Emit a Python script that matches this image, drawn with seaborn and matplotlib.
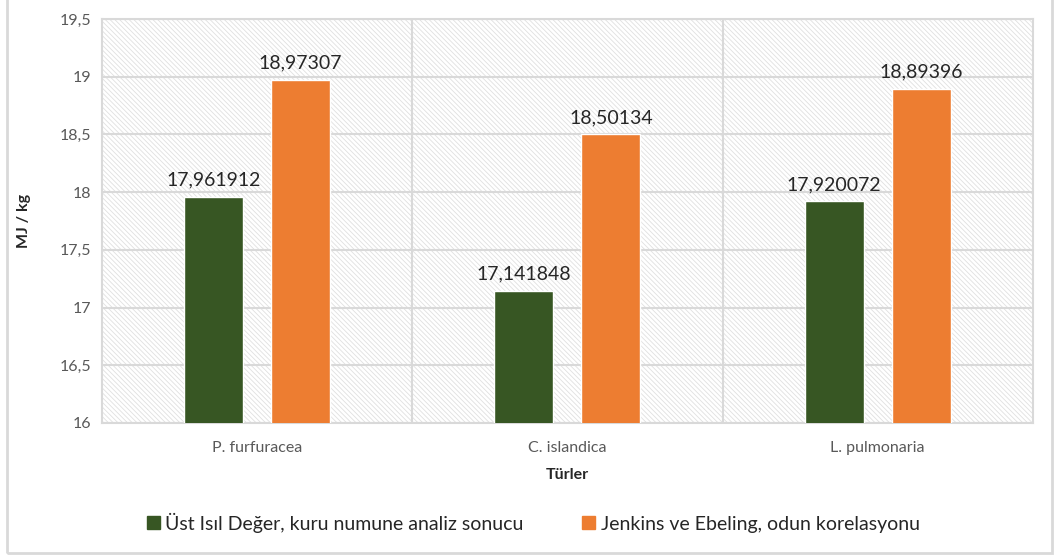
import matplotlib
matplotlib.use("Agg")
import matplotlib.pyplot as plt
from matplotlib.patches import Rectangle
from matplotlib.ticker import FuncFormatter, MultipleLocator
import pandas as pd
import seaborn as sns

# veriler
turler = ["P. furfuracea", "C. islandica", "L. pulmonaria"]
seriler = ["Üst Isıl Değer, kuru numune analiz sonucu", "Jenkins ve Ebeling, odun korelasyonu"]
ust_isil = [17.961912, 17.141848, 17.920072]
jenkins = [18.97307, 18.50134, 18.89396]
etiket_ust = ["17,961912", "17,141848", "17,920072"]
etiket_jenkins = ["18,97307", "18,50134", "18,89396"]

df = pd.DataFrame({
    "tur": turler * 2,
    "seri": [seriler[0]] * 3 + [seriler[1]] * 3,
    "deger": ust_isil + jenkins,
})

sns.set_theme(style="white")
plt.rcParams["font.family"] = ["Lato", "DejaVu Sans"]
plt.rcParams["hatch.color"] = "#e0e0e0"
plt.rcParams["hatch.linewidth"] = 0.6

renkler = ["#375623", "#ED7D31"]
gri = "#d9d9d9"

fig = plt.figure(figsize=(10.56, 5.59), dpi=100)
ax = fig.add_axes([0.0966, 0.2433, 0.8814, 0.7227])

# taralı arka plan
ax.add_patch(Rectangle((0, 0), 1, 1, transform=ax.transAxes, facecolor="white",
                       edgecolor="#e0e0e0", hatch="\\\\\\\\\\\\\\", linewidth=0, zorder=0))

sns.barplot(data=df, x="tur", y="deger", hue="seri", palette=renkler, saturation=1,
            width=0.56, gap=0.32, ax=ax, legend=False, zorder=3)

ax.set_ylim(16, 19.5)
ax.set_xlim(-0.5, 2.5)
ax.yaxis.set_major_locator(MultipleLocator(0.5))
ax.yaxis.set_major_formatter(FuncFormatter(lambda v, p: f"{v:g}".replace(".", ",")))
ax.grid(axis="y", color=gri, linewidth=1.5, zorder=1)
ax.set_axisbelow(True)
for xv in [0.5, 1.5]:
    ax.axvline(xv, color=gri, linewidth=1.5, zorder=1)
for s in ax.spines.values():
    s.set_color(gri)
    s.set_linewidth(1.5)

ax.tick_params(axis="both", length=0, labelsize=11.5, labelcolor="#595959", pad=8)
ax.tick_params(axis="x", pad=13)
ax.set_xlabel("Türler", fontsize=11.5, fontweight="bold", color="#262626", labelpad=9)
ax.set_ylabel("MJ / kg", fontsize=11.5, fontweight="bold", color="#262626", labelpad=20)

ax.bar_label(ax.containers[0], labels=etiket_ust, padding=6, fontsize=14, color="#262626")
ax.bar_label(ax.containers[1], labels=etiket_jenkins, padding=6, fontsize=14, color="#262626")

handles = [Rectangle((0, 0), 1, 1, color=c) for c in renkler]
fig.legend(handles, seriler, loc="center", bbox_to_anchor=(0.505, 0.065), ncol=2,
           frameon=False, fontsize=14, handlelength=0.65, handleheight=0.65,
           handletextpad=0.3, columnspacing=3.0, labelcolor="#262626")

# dış çerçeve
fig.add_artist(Rectangle((7 / 1056, 6 / 559), 1045 / 1056, 560 / 559, transform=fig.transFigure,
                         facecolor="none", edgecolor=gri, linewidth=2))

fig.savefig("out.png", dpi=100)
